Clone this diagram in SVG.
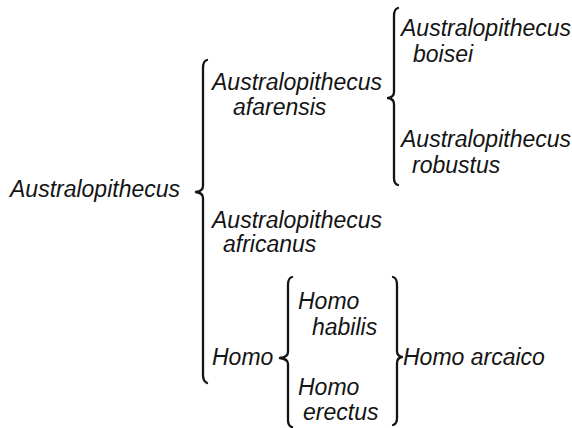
<svg xmlns="http://www.w3.org/2000/svg" width="572" height="428" viewBox="0 0 572 428">
<style>
text{font-family:"Liberation Sans",Arial,sans-serif;font-style:italic;font-size:23px;fill:#141414}
.br{fill:none;stroke:#141414;stroke-width:2.3;stroke-linecap:round;stroke-linejoin:round}
</style>
<rect width="572" height="428" fill="#ffffff"/>
<g id="connectors">
<path class="br" d="M207,60 Q203,61 203,68 L203,186 Q203,191 196,192 Q203,193 203,198 L203,375 Q203,381 207,383"/>
<path class="br" d="M398,8 Q394,9 394,16 L394,92 Q394,97 388,98 Q394,99 394,104 L394,178 Q394,184 398,185"/>
<path class="br" d="M292,277 Q288,278 288,285 L288,352 Q288,357 280,358 Q288,359 288,364 L288,420 Q288,426 292,427"/>
<path class="br" d="M393,277 Q397,278 397,285 L397,351 Q397,356 402,357 Q397,358 397,363 L397,418 Q397,424 393,425"/>
</g>
<g id="australopithecus"><text x="10" y="197">Australopithecus</text></g>
<g id="afarensis"><text x="212" y="90">Australopithecus</text><text x="233" y="115">afarensis</text></g>
<g id="boisei"><text x="401" y="36">Australopithecus</text><text x="413" y="62">boisei</text></g>
<g id="robustus"><text x="401" y="147">Australopithecus</text><text x="412" y="173">robustus</text></g>
<g id="africanus"><text x="212" y="228">Australopithecus</text><text x="223" y="252">africanus</text></g>
<g id="homo"><text x="212" y="365">Homo</text></g>
<g id="habilis"><text x="298" y="309">Homo</text><text x="312" y="335">habilis</text></g>
<g id="erectus"><text x="298" y="395">Homo</text><text x="303" y="420">erectus</text></g>
<g id="arcaico"><text x="403" y="365">Homo arcaico</text></g>
</svg>
